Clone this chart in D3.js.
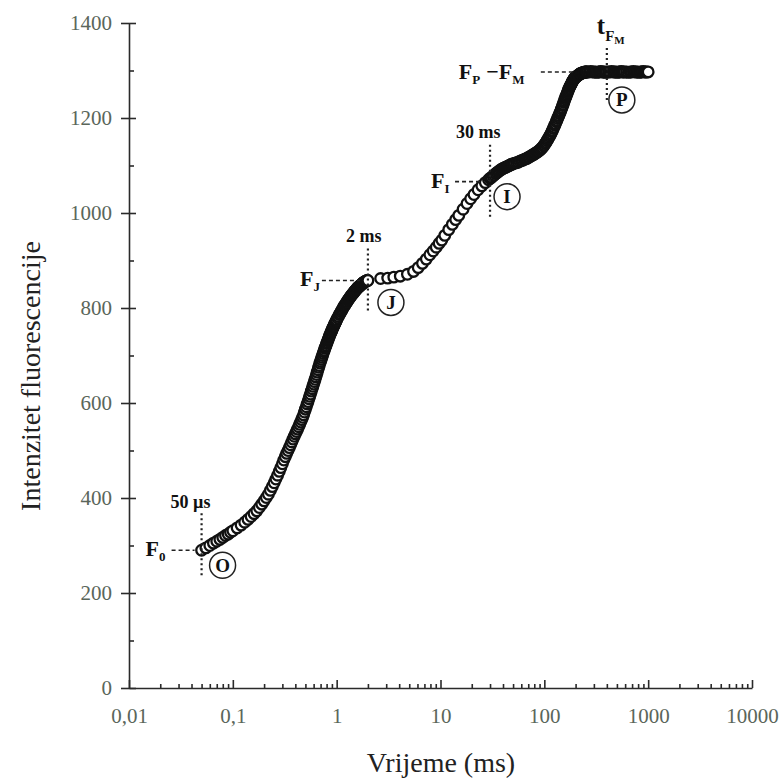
<!DOCTYPE html>
<html>
<head>
<meta charset="utf-8">
<script src="https://cdn.jsdelivr.net/npm/d3@7"></script>
<style>
  body { margin: 0; background: #fff; }
  text { font-family: "Liberation Serif", "Times New Roman", serif; }
</style>
</head>
<body>
<svg id="chart" width="782" height="778"></svg>
<script>
// OJIP fluorescence transient (time in ms)
let timeMs = [
  0.05, 0.055, 0.06, 0.065, 0.07, 0.075, 0.08, 0.085, 0.09, 0.095,
  0.10, 0.11, 0.12, 0.13, 0.14, 0.15, 0.16, 0.17, 0.18, 0.19,
  0.20, 0.21, 0.22, 0.23, 0.24, 0.25, 0.26, 0.27, 0.28, 0.29,
  0.30, 0.31, 0.32, 0.33, 0.34, 0.35, 0.36, 0.37, 0.38, 0.39,
  0.40, 0.41, 0.42, 0.43, 0.44, 0.45, 0.46, 0.47, 0.48, 0.49,
  0.50, 0.51, 0.52, 0.53, 0.54, 0.55, 0.56, 0.57, 0.58, 0.59,
  0.60, 0.61, 0.62, 0.63, 0.64, 0.65, 0.66, 0.67, 0.68, 0.69,
  0.70, 0.71, 0.72, 0.73, 0.74, 0.75, 0.76, 0.77, 0.78, 0.79,
  0.80, 0.81, 0.82, 0.83, 0.84, 0.85, 0.86, 0.87, 0.88, 0.89,
  0.90, 0.91, 0.92, 0.93, 0.94, 0.95, 0.96, 0.97, 0.98, 0.99,
  1.00, 1.02, 1.04, 1.06, 1.08, 1.10, 1.12, 1.14, 1.16, 1.18,
  1.20, 1.22, 1.24, 1.26, 1.28, 1.30, 1.32, 1.34, 1.36, 1.38,
  1.40, 1.42, 1.44, 1.46, 1.48, 1.50, 1.52, 1.54, 1.56, 1.58,
  1.60, 1.62, 1.64, 1.66, 1.68, 1.70, 1.72, 1.74, 1.76, 1.78,
  1.80, 1.82, 1.84, 1.86, 1.88, 1.90, 1.92, 1.94, 1.96, 1.98, 2.00,
  2.65, 3.1, 3.55, 4.1, 4.8, 5.5, 6.1, 6.7, 7.3, 7.9, 8.5, 9.1, 9.7, 10.3,
  11, 12, 13, 14, 15, 16.5, 18, 19.5, 21, 23, 25, 27, 29,
  30, 31, 32, 33, 34, 35, 36, 37, 38, 39, 40, 41, 42, 43, 44, 45, 46, 47, 48, 49, 50,
  52, 54, 56, 58, 60, 62, 64, 66, 68, 70, 72, 74, 76, 78, 80, 82, 84, 86, 88, 90,
  92, 94, 96, 98, 100, 102, 104, 106, 108, 110, 112, 114, 116, 118, 120, 122, 124,
  126, 128, 130, 132, 134, 136, 138, 140, 142, 144, 146, 148, 150, 152, 154, 156,
  158, 160, 162, 164, 166, 168, 170, 172, 174, 176, 178, 180, 182, 184, 186, 188,
  190, 192, 194, 196, 198, 200, 203, 206, 209, 212, 215, 218, 221, 224, 227, 230,
  233, 236, 239, 242, 245, 248, 251, 254, 257, 260,
  270, 280, 290, 300, 310, 320, 330, 340, 350, 360, 370, 380, 390, 400,
  415, 430, 445, 460, 475, 490, 505, 520, 535, 550, 565, 580, 595,
  620, 645, 670, 695, 720, 745, 770, 795, 820, 845, 870, 895, 920, 945, 970, 1000
];
let fluor = [
  290, 295, 300, 305, 309, 313, 317, 321, 324, 328,
  331, 337, 343, 349, 355, 361, 367, 373, 380, 387,
  394, 401, 408, 416, 424, 432, 440, 448, 456, 464,
  472, 480, 487, 494, 500, 506, 512, 518, 524, 530,
  535, 540, 545, 550, 555, 560, 565, 570, 575, 581,
  587, 592, 598, 603, 609, 614, 619, 625, 630, 635,
  640, 645, 650, 655, 660, 665, 670, 675, 679, 684,
  688, 692, 696, 700, 704, 708, 711, 715, 718, 721,
  725, 728, 731, 734, 737, 740, 743, 746, 748, 751,
  753, 756, 758, 760, 762, 765, 767, 769, 771, 773,
  775, 779, 782, 786, 789, 792, 795, 798, 801, 804,
  806, 809, 811, 813, 816, 818, 820, 822, 824, 826,
  828, 829, 831, 833, 834, 836, 837, 839, 840, 842,
  843, 844, 845, 846, 847, 848, 849, 850, 851, 852,
  853, 854, 854, 855, 856, 856, 857, 857, 858, 858, 858,
  862, 863, 865, 867, 871, 877, 885, 894, 903, 912, 920, 928, 936, 943,
  953, 965, 976, 986, 995, 1008, 1020, 1030, 1039, 1049, 1057, 1064, 1070,
  1073, 1075, 1078, 1080, 1083, 1085, 1087, 1089, 1091, 1092, 1094, 1095, 1096, 1097, 1098, 1099, 1100, 1101, 1102, 1103, 1104,
  1105, 1106, 1107, 1109, 1110, 1111, 1113, 1114, 1115, 1117, 1118, 1120, 1121, 1123, 1124, 1126, 1127, 1129, 1130, 1132,
  1134, 1136, 1138, 1141, 1143, 1146, 1149, 1152, 1155, 1158, 1161, 1164, 1167, 1171, 1174, 1178, 1181,
  1185, 1188, 1192, 1195, 1199, 1202, 1205, 1209, 1212, 1215, 1219, 1222, 1226, 1229, 1233, 1236,
  1240, 1243, 1246, 1249, 1252, 1255, 1258, 1261, 1263, 1266, 1268, 1270, 1272, 1274, 1276, 1278,
  1280, 1281, 1283, 1284, 1285, 1286, 1287, 1288, 1289, 1290, 1291, 1292, 1293, 1294, 1294, 1295,
  1295, 1296, 1296, 1296, 1297, 1297, 1297, 1297, 1297, 1297,
  1297, 1298, 1297, 1297, 1297, 1296, 1297, 1297, 1298, 1297, 1297, 1297, 1296, 1297,
  1297, 1297, 1298, 1297, 1297, 1297, 1296, 1297, 1297, 1298, 1297, 1297, 1297,
  1297, 1296, 1297, 1297, 1298, 1297, 1297, 1297, 1296, 1297, 1297, 1298, 1297, 1297, 1297, 1297
];

let xTicks = [0.01, 0.1, 1, 10, 100, 1000, 10000];
let xTickLabels = ["0,01", "0,1", "1", "10", "100", "1000", "10000"];
let yTicks = [0, 200, 400, 600, 800, 1000, 1200, 1400];
let yMinorTicks = [100, 300, 500, 700, 900, 1100, 1300];

// characteristic steps of the transient
let stepNames = ["O", "J", "I", "P"];
let stepTimes = [0.05, 2, 30, 400];
let stepValues = [290, 858, 1066, 1297];
let stepTimeLabels = ["50 µs", "2 ms", "30 ms", null];

let serif = "'Liberation Serif', 'Times New Roman', serif";
let svg = d3.select("#chart");
let axisColor = "#2a2a2a";
let tickTextColor = "#5a665a";

let x = d3.scaleLog().domain([0.01, 10000]).range([129, 752]);
let y = d3.scaleLinear().domain([0, 1400]).range([688, 23]);

// x axis: decade ticks point up, minor ticks smaller
let gx = svg.append("g").attr("transform", "translate(0," + y(0) + ")");
gx.call(d3.axisBottom(x)
    .tickValues(xTicks)
    .tickSizeInner(-8)
    .tickSizeOuter(0)
    .tickPadding(20)
    .tickFormat((d, i) => xTickLabels[i]));

let minorX = x.ticks().filter(d => xTicks.indexOf(d) < 0);
svg.append("g").attr("transform", "translate(0," + y(0) + ")")
    .call(d3.axisBottom(x).tickValues(minorX).tickSizeInner(-4).tickSizeOuter(0).tickFormat(""))
    .select(".domain").remove();

// y axis: major ticks cross the line, minor ticks on the inside only
let gy = svg.append("g").attr("transform", "translate(" + x(0.01) + ",0)");
gy.call(d3.axisLeft(y)
    .tickValues(yTicks)
    .tickSizeInner(8)
    .tickSizeOuter(0)
    .tickPadding(9)
    .tickFormat(d3.format("d")));

svg.append("g").attr("transform", "translate(" + x(0.01) + ",0)")
    .call(d3.axisRight(y).tickValues(yTicks).tickSizeInner(7).tickSizeOuter(0).tickFormat(""))
    .select(".domain").remove();
svg.append("g").attr("transform", "translate(" + x(0.01) + ",0)")
    .call(d3.axisRight(y).tickValues(yMinorTicks).tickSizeInner(5).tickSizeOuter(0).tickFormat(""))
    .select(".domain").remove();

svg.selectAll(".domain, .tick line")
    .attr("stroke", axisColor)
    .attr("stroke-width", 1.6);
svg.selectAll(".tick text")
    .attr("fill", tickTextColor)
    .style("font-size", "21px")
    .style("font-family", serif);

// axis titles
svg.append("text")
    .attr("transform", "translate(40,376) rotate(-90)")
    .attr("text-anchor", "middle")
    .attr("fill", "#222")
    .style("font-family", serif)
    .style("font-size", "28px")
    .text("Intenzitet fluorescencije");

svg.append("text")
    .attr("x", 441)
    .attr("y", 772)
    .attr("text-anchor", "middle")
    .attr("fill", "#222")
    .style("font-family", serif)
    .style("font-size", "28px")
    .text("Vrijeme (ms)");

// markers, drawn in time order so each one covers the previous
let points = timeMs.map((t, i) => ({t: t, f: fluor[i]}));
svg.append("g").selectAll("circle")
    .data(points)
    .enter()
    .append("circle")
    .attr("cx", d => x(d.t))
    .attr("cy", d => y(d.f))
    .attr("r", 5.3)
    .attr("fill", "#fff")
    .attr("stroke", "#111")
    .attr("stroke-width", 2.3);

// annotations
let ann = svg.append("g").attr("fill", "#111")
    .style("font-weight", "bold").style("font-family", serif);

function vDots(px, y0, y1) {
    ann.append("line")
        .attr("x1", px).attr("x2", px).attr("y1", y0).attr("y2", y1)
        .attr("stroke", "#222").attr("stroke-width", 2.2)
        .attr("stroke-dasharray", "2,3");
}
function hDash(x0, x1, py) {
    ann.append("line")
        .attr("x1", x0).attr("x2", x1).attr("y1", py).attr("y2", py)
        .attr("stroke", "#222").attr("stroke-width", 1.6)
        .attr("stroke-dasharray", "4,3");
}
function stepCircle(cx, cy, letter) {
    ann.append("circle")
        .attr("cx", cx).attr("cy", cy).attr("r", 13)
        .attr("fill", "#fff").attr("stroke", "#222").attr("stroke-width", 1.5);
    ann.append("text")
        .attr("x", cx).attr("y", cy + 6.5)
        .attr("text-anchor", "middle")
        .style("font-size", "19px")
        .text(letter);
}
function fLabel(px, py, sub) {
    let t = ann.append("text").attr("x", px).attr("y", py).style("font-size", "22px");
    t.append("tspan").text("F");
    t.append("tspan").attr("dy", 5).style("font-size", "13px").text(sub);
}
function timeLabel(px, py, txt) {
    ann.append("text").attr("x", px).attr("y", py).style("font-size", "18px").text(txt);
}

// O
let ox = x(stepTimes[0]), oy = y(stepValues[0]);
vDots(ox, oy - 37, oy + 27);
timeLabel(ox - 31, oy - 42, stepTimeLabels[0]);
hDash(ox - 30, ox - 7, oy);
fLabel(ox - 56, oy + 6, "0");
stepCircle(ox + 21, oy + 15, stepNames[0]);

// J
let jx = x(stepTimes[1]), jy = y(stepValues[1]);
vDots(jx, jy - 32, jy + 30);
timeLabel(jx - 22, jy - 38, stepTimeLabels[1]);
hDash(jx - 46, jx - 8, jy);
fLabel(jx - 68, jy + 6, "J");
stepCircle(jx + 23, jy + 22, stepNames[1]);

// I
let ix = x(stepTimes[2]), iy = y(stepValues[2]);
vDots(ix, iy - 37, iy + 37);
timeLabel(ix - 34, iy - 44, stepTimeLabels[2]);
hDash(ix - 35, ix - 9, iy);
fLabel(ix - 59, iy + 6, "I");
stepCircle(ix + 17, iy + 15, stepNames[2]);

// P
let px = x(stepTimes[3]), py = y(stepValues[3]);
vDots(px, py - 24, py + 30);
let tfm = ann.append("text").attr("x", px - 10).attr("y", py - 38).style("font-size", "25px");
tfm.append("tspan").text("t");
tfm.append("tspan").attr("dy", 7).style("font-size", "15px").text("F");
tfm.append("tspan").attr("dy", 3).style("font-size", "11px").text("M");
let fpm = ann.append("text").attr("x", px - 148).attr("y", py + 7).style("font-size", "22px");
fpm.append("tspan").text("F");
fpm.append("tspan").attr("dy", 5).style("font-size", "13px").text("P");
fpm.append("tspan").attr("dy", -5).attr("dx", 6).text("\u2212F");
fpm.append("tspan").attr("dy", 5).style("font-size", "13px").text("M");
hDash(px - 66, px - 33, py);
stepCircle(px + 15, py + 28, stepNames[3]);
</script>
</body>
</html>
